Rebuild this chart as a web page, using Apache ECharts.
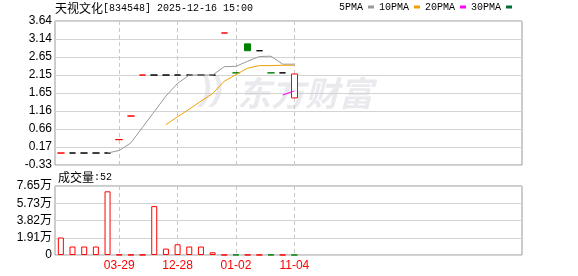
<!DOCTYPE html>
<html><head><meta charset="utf-8">
<script src="https://cdn.jsdelivr.net/npm/echarts@6/dist/echarts.min.js"></script>
<style>html,body{margin:0;padding:0;background:#fff}#c{width:578px;height:276px}</style>
</head><body><div id="c"></div>
<script>
// ---- data ----
const stockName = '天视文化';
const stockCode = '[834548]';
const stamp = '2025-12-16 15:00';
const slotCount = 40;
const xTickLabels = {5: '03-29', 10: '12-28', 15: '01-02', 20: '11-04'};
const opens  = [0, 0, 0, 0, 0, 0.37, 1.02, 2.15, 2.15, 2.15, 2.15, 2.15, 2.15, 2.15, 3.31, 2.21, 3.01, 2.82, 2.21, 2.21, 1.52];
const closes = [0, 0, 0, 0, 0, 0.37, 1.02, 2.15, 2.15, 2.15, 2.15, 2.15, 2.15, 2.15, 3.31, 2.21, 2.82, 2.82, 2.21, 2.21, 2.18];
const lows   = [0, 0, 0, 0, 0, 0.37, 1.02, 2.15, 2.15, 2.15, 2.15, 2.15, 2.15, 2.15, 3.31, 2.21, 2.82, 2.82, 2.21, 2.21, 1.52];
const highs  = [0, 0, 0, 0, 0, 0.37, 1.02, 2.15, 2.15, 2.15, 2.15, 2.15, 2.15, 2.15, 3.31, 2.21, 3.01, 2.82, 2.21, 2.21, 2.18];
const volumes = [19400, 9400, 9400, 9400, 70600, 300, 200, 150, 54200, 7100, 11900, 9400, 9400, 3000, 120, 200, 150, 100, 200, 100, 52];
const ma5  = ['-', '-', '-', '-', 0, 0.07, 0.28, 0.71, 1.14, 1.57, 1.92, 2.15, 2.15, 2.15, 2.38, 2.39, 2.53, 2.66, 2.67, 2.45, 2.45];
const ma10 = ['-', '-', '-', '-', '-', '-', '-', '-', '-', 0.78, 1.00, 1.21, 1.43, 1.64, 1.98, 2.16, 2.34, 2.41, 2.41, 2.42, 2.42];
const ma20 = ['-', '-', '-', '-', '-', '-', '-', '-', '-', '-', '-', '-', '-', '-', '-', '-', '-', '-', '-', 1.60, 1.71];
const ma30 = [];
const priceTicks = [-0.33, 0.17, 0.66, 1.16, 1.65, 2.15, 2.65, 3.14, 3.64];
const volTicks = [0, 19100, 38200, 57300, 76500];
const volTickLabels = ['0', '1.91万', '3.82万', '5.73万', '7.65万'];
const maNames = ['5PMA', '10PMA', '20PMA', '30PMA'];

// ---- styling ----
const RED = '#ff0000', GREEN = '#008000', BLACK = '#000000';
const categories = Array.from({length: slotCount}, (_, i) => 'd' + i);
const showTick = (i) => xTickLabels[i] !== undefined;

const candleData = opens.map((o, i) => {
  const c = closes[i];
  const item = {value: [o, c, lows[i], highs[i]]};
  if (o === c) {
    const prev = i > 0 ? closes[i - 1] : null;
    const s = prev === null ? RED : (c > prev ? RED : (c < prev ? GREEN : BLACK));
    item.itemStyle = {color: s, color0: s, borderColor: s, borderColor0: s, borderColorDoji: s};
  }
  return item;
});
const volData = volumes.map((v, i) => {
  const up = i === 0 || closes[i] >= closes[i - 1];
  return {value: v, itemStyle: {color: '#ffffff', borderColor: up ? RED : GREEN, borderWidth: 1}};
});

const xAxisBase = (gi, showLabel) => ({
  type: 'category', gridIndex: gi, data: categories, boundaryGap: true,
  axisLine: {show: false}, axisTick: {show: false},
  axisLabel: {show: showLabel, interval: (i) => showTick(i), formatter: (v, i) => xTickLabels[i] || '',
    color: RED, fontFamily: 'Liberation Sans', fontSize: 12, margin: 5},
  splitLine: {show: true, interval: (i) => showTick(i), alignWithLabel: true, lineStyle: {type: [4, 3], color: '#c8c8c8'}}
});
const richTxt = {
  cn: {fontFamily: 'Noto Sans CJK SC', fontSize: 12, fontWeight: 'normal', color: '#000', lineHeight: 15, verticalAlign: 'middle'},
  a: {fontFamily: 'Liberation Mono', fontSize: 10, fontWeight: 'normal', color: '#000', lineHeight: 15, verticalAlign: 'middle'}
};

const chart = echarts.init(document.getElementById('c'), null, {renderer: 'canvas'});
chart.setOption({
  animation: false,
  backgroundColor: '#ffffff',
  title: [
    {left: 55, top: 1, padding: 0, text: '{cn|' + stockName + '}{a|' + stockCode + ' ' + stamp + '}',
     textStyle: {fontWeight: 'normal', rich: richTxt}},
    {left: 58, top: 170, padding: 0, text: '{cn|成交量}{a|:' + volumes[volumes.length - 1] + '}',
     textStyle: {fontWeight: 'normal', rich: richTxt}}
  ],
  legend: {
    data: maNames, left: 339, top: 2, padding: 0, icon: 'rect', itemWidth: 6, itemHeight: 3, itemGap: 5, align: 'right',
    textStyle: {fontFamily: 'Liberation Mono', fontSize: 10, color: '#000'}, selectedMode: false
  },
  graphic: [
    {type: 'text', left: 237, top: 76, z: -10, silent: true,
     style: {text: '东方财富', fill: '#eaeaee', font: 'italic bold 34px "Noto Sans CJK SC"'}},
    {type: 'text', left: 200, top: 74, z: -10, silent: true,
     style: {text: '))', fill: '#eaeaee', font: 'italic bold 34px "Liberation Sans"'}}
  ],
  grid: [
    {left: 55, top: 21, width: 467, height: 144, show: true, borderColor: '#999', borderWidth: 1},
    {left: 55, top: 186, width: 467, height: 69, show: true, borderColor: '#999', borderWidth: 1}
  ],
  xAxis: [xAxisBase(0, false), xAxisBase(1, true)],
  yAxis: [
    {type: 'value', gridIndex: 0, min: -0.33, max: 3.64,
     axisLine: {show: false}, axisTick: {show: false, customValues: priceTicks},
     axisLabel: {customValues: priceTicks, formatter: (v) => v.toFixed(2), color: '#000', fontFamily: 'Liberation Sans', fontSize: 12, margin: 3},
     splitLine: {show: true, lineStyle: {color: '#d3d3d3'}}},
    {type: 'value', gridIndex: 1, min: 0, max: 76500,
     axisLine: {show: false}, axisTick: {show: false, customValues: volTicks},
     axisLabel: {customValues: volTicks, formatter: (v) => volTickLabels[volTicks.indexOf(v)],
       color: '#000', fontFamily: 'Liberation Sans, Noto Sans CJK SC', fontSize: 12, margin: 3},
     splitLine: {show: true, lineStyle: {color: '#d3d3d3'}}}
  ],
  series: [
    {type: 'candlestick', name: 'K', xAxisIndex: 0, yAxisIndex: 0, barWidth: 7, data: candleData,
     itemStyle: {color: '#ffffff', color0: GREEN, borderColor: RED, borderColor0: GREEN, borderColorDoji: BLACK, borderWidth: 1}},
    {type: 'line', name: maNames[0], xAxisIndex: 0, yAxisIndex: 0, data: ma5, symbol: 'none', color: '#999999', lineStyle: {width: 1, color: '#999999'}},
    {type: 'line', name: maNames[1], xAxisIndex: 0, yAxisIndex: 0, data: ma10, symbol: 'none', color: '#f0a000', lineStyle: {width: 1, color: '#f0a000'}},
    {type: 'line', name: maNames[2], xAxisIndex: 0, yAxisIndex: 0, data: ma20, symbol: 'none', color: '#ff00ff', lineStyle: {width: 1, color: '#ff00ff'}},
    {type: 'line', name: maNames[3], xAxisIndex: 0, yAxisIndex: 0, data: ma30, symbol: 'none', color: '#006f30', lineStyle: {width: 1, color: '#006f30'}},
    {type: 'bar', name: 'VOL', xAxisIndex: 1, yAxisIndex: 1, barWidth: 6, data: volData}
  ]
});
</script></body></html>
